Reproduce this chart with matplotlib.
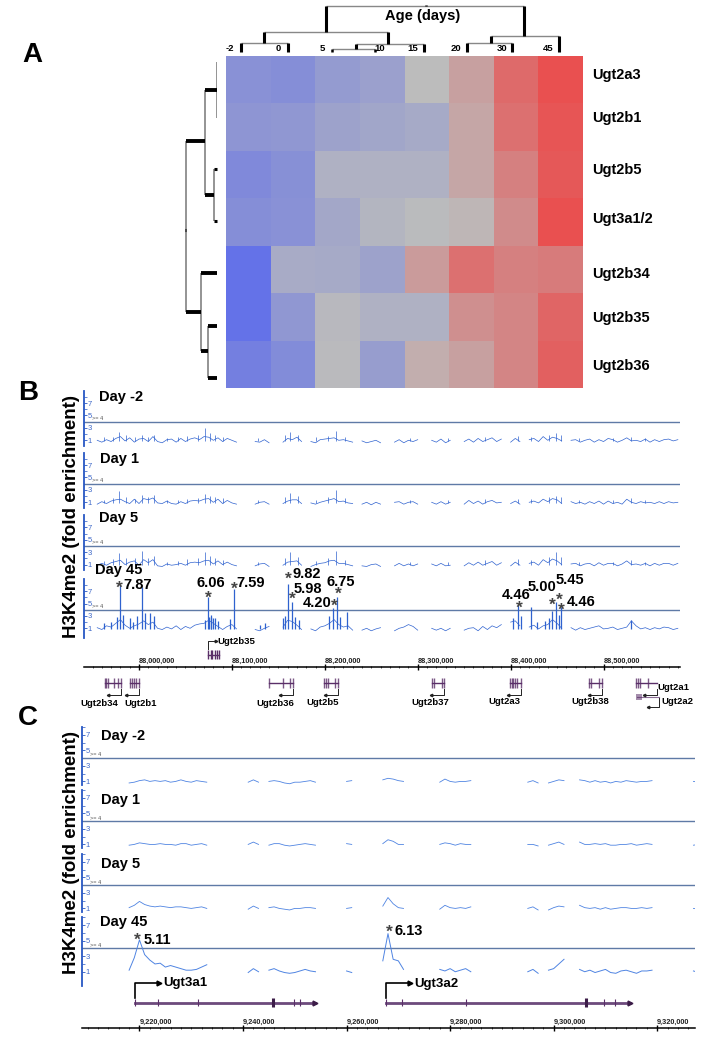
import matplotlib
matplotlib.use('Agg')
import matplotlib.pyplot as plt
from matplotlib.colors import LinearSegmentedColormap
import numpy as np

# heat map
age_lst = ['-2', '0', '5', '10', '15', '20', '30', '45']
gene_lst = ['Ugt2a3', 'Ugt2b1', 'Ugt2b5', 'Ugt3a1/2', 'Ugt2b34', 'Ugt2b35', 'Ugt2b36']
expr_2a3 = [-0.58, -0.62, -0.45, -0.38, 0.0, 0.25, 0.75, 1.0]
expr_2b1 = [-0.52, -0.5, -0.35, -0.3, -0.25, 0.2, 0.7, 0.95]
expr_2b5 = [-0.68, -0.6, -0.15, -0.15, -0.15, 0.2, 0.55, 0.92]
expr_3a1 = [-0.62, -0.58, -0.28, -0.1, -0.02, 0.05, 0.45, 1.05]
expr_2b34 = [-1.0, -0.22, -0.25, -0.35, 0.3, 0.7, 0.55, 0.6]
expr_2b35 = [-1.0, -0.5, -0.05, -0.15, -0.15, 0.42, 0.5, 0.8]
expr_2b36 = [-0.82, -0.65, -0.03, -0.42, 0.13, 0.25, 0.5, 0.85]

# dendrograms: link height, then the span in row/column units
row_link_h = [0, 11.5, 3.3, 31, 16, 8.5]
row_link_top = [0.13, 0.72, 2.38, 1.81, 4.58, 5.69]
row_link_bot = [1.31, 2.93, 3.48, 5.41, 6.23, 6.79]
row_bar_pos = [0.72, 1.81, 2.93, 5.41, 4.58, 6.23, 5.69, 6.79, 2.38, 3.48, 3.67]
row_bar_h0 = [0, 11.5, 3.3, 16, 0, 8.5, 0, 0, 0, 0, 31]
row_bar_h1 = [11.5, 31, 11.5, 31, 16, 16, 8.5, 8.5, 3.3, 3.3, 32.5]

col_link_h = [45.7, 19.7, 9.3, 7.7, 2.7, 16, 8.7]
col_link_l = [2.24, 0.85, 0.34, 2.91, 2.37, 5.94, 5.41]
col_link_r = [6.67, 3.62, 1.39, 4.43, 3.33, 7.47, 6.41]
col_bar_pos = [2.24, 6.67, 0.85, 3.62, 0.34, 1.39, 2.91, 4.43, 5.94, 7.47, 5.41, 6.41, 2.37, 3.33, 4.49]
col_bar_h0 = [19.7, 16, 9.3, 7.7, 0, 0, 2.7, 0, 8.7, 0, 0, 0, 0, 0, 45.7]
col_bar_h1 = [45.7, 45.7, 19.7, 19.7, 9.3, 9.3, 7.7, 7.7, 16, 16, 8.7, 8.7, 2.7, 2.7, 47.5]

# panel B tracks (kb on chr5), gaps in the coverage are where the spacing jumps
b_pos = [87955, 87960, 87965, 87970, 87975, 87980, 87985, 87990, 87995, 88000, 88005, 88010, 88015, 88020, 88025,
         88030, 88035, 88040, 88045, 88050, 88055, 88060, 88065, 88070, 88075, 88080, 88085, 88090, 88095, 88100,
         88105,
         88125, 88130, 88135, 88140,
         88155, 88160, 88165, 88170, 88175,
         88185, 88190, 88195, 88200, 88205, 88210, 88215, 88220, 88225, 88230,
         88240, 88245, 88250, 88255, 88260,
         88275, 88280, 88285, 88290, 88295, 88300,
         88315, 88320, 88325, 88330, 88335,
         88350, 88355, 88360, 88365, 88370, 88375, 88380, 88385, 88390,
         88400, 88405, 88410,
         88420, 88425, 88430, 88435, 88440, 88445, 88450, 88455,
         88465, 88470, 88475, 88480, 88485, 88490, 88495, 88500, 88505, 88510, 88515, 88520, 88525, 88530, 88535,
         88540, 88545, 88550, 88555, 88560, 88565, 88570, 88575, 88580]
b_day_m2 = [1.0, 0.7, 1.1, 0.8, 1.3, 1.6, 0.9, 1.4, 0.7, 1.2, 1.3, 0.8, 1.6, 0.8, 0.6,
            1.1, 1.2, 0.7, 1.3, 0.8, 1.2, 1.4, 1.1, 1.6, 1.5, 1.0, 1.4, 0.8, 1.3, 1.0,
            0.7,
            0.8, 0.7, 1.1, 0.6,
            0.7, 1.3, 1.1, 1.5, 0.8,
            0.8, 0.6, 1.1, 1.2, 1.3, 1.4, 1.0, 1.1, 0.9, 0.7,
            0.9, 0.6, 0.8, 1.0, 0.6,
            0.7, 1.1, 0.6, 1.0, 0.8, 1.1,
            1.0, 0.7, 1.2, 0.6, 1.0,
            0.8, 1.2, 0.7, 1.3, 0.8, 1.1, 1.4, 0.8, 1.2,
            0.7, 1.3, 0.8,
            1.1, 1.3, 0.8, 1.6, 1.0, 1.5, 1.3, 0.9,
            1.0, 1.1, 0.7, 1.0, 1.2, 0.7, 1.1, 0.8, 1.3, 1.1, 0.7,
            1.0, 1.4, 0.9, 1.0, 0.8, 1.2, 0.7, 1.1, 0.8, 1.1, 1.2, 0.9, 1.1]
b_day_1 = [0.7, 1.1, 0.8, 1.2, 1.4, 1.5, 1.1, 0.8, 1.5, 0.8, 1.6, 1.4, 1.7, 0.9, 0.8,
           1.2, 0.8, 0.7, 1.1, 0.8, 1.2, 1.3, 1.2, 1.5, 1.6, 1.0, 1.5, 0.8, 1.3, 0.9,
           0.7,
           0.7, 1.0, 1.1, 0.7,
           0.8, 1.2, 1.4, 1.4, 0.8,
           0.9, 0.7, 1.0, 1.2, 1.4, 1.6, 1.1, 1.2, 0.9, 0.8,
           0.7, 1.0, 0.6, 1.0, 0.7,
           1.0, 1.1, 0.7, 1.0, 1.1, 0.7,
           1.0, 0.7, 1.1, 0.7, 1.0,
           0.7, 1.3, 0.8, 1.2, 0.7, 1.1, 1.3, 0.9, 1.0,
           0.8, 1.2, 0.7,
           1.0, 1.2, 0.9, 1.5, 1.1, 1.6, 1.4, 0.8,
           1.1, 0.8, 1.0, 0.7, 1.1, 0.8, 1.2, 0.7, 1.2, 0.8, 1.0,
           0.7, 1.5, 1.0, 0.8, 1.1, 0.9, 1.0, 0.8, 1.1, 0.8, 1.1, 0.9, 1.0]
b_day_5 = [0.9, 1.2, 0.9, 1.3, 1.5, 1.7, 1.0, 1.4, 1.6, 0.9, 1.8, 1.3, 1.8, 0.8, 0.7,
           1.1, 0.9, 1.0, 1.2, 0.9, 1.3, 1.4, 1.3, 1.6, 1.7, 1.1, 1.6, 1.0, 1.4, 1.0,
           0.8,
           0.8, 1.1, 1.2, 0.7,
           0.9, 1.4, 1.5, 1.6, 0.9,
           0.7, 1.0, 1.2, 1.3, 1.6, 1.7, 1.2, 1.2, 1.0, 0.8,
           0.8, 0.7, 1.0, 1.1, 0.7,
           0.8, 1.2, 0.8, 1.1, 0.8, 1.1,
           1.1, 0.8, 1.2, 0.8, 0.9,
           0.8, 1.3, 0.9, 1.4, 0.9, 1.2, 1.5, 0.9, 1.3,
           0.8, 1.4, 0.9,
           1.2, 1.4, 0.9, 1.8, 1.3, 1.9, 1.6, 1.0,
           1.1, 1.2, 0.8, 1.1, 1.2, 0.8, 1.3, 0.9, 1.2, 1.2, 0.8,
           1.1, 1.6, 1.0, 1.1, 0.9, 1.2, 0.8, 1.2, 0.9, 1.2, 1.2, 0.9, 1.2]
b_day_45 = [1.1, 0.8, 1.4, 1.2, 1.8, 2.4, 1.5, 1.0, 1.4, 1.7, 2.2, 1.6, 2.0, 1.0, 0.8,
            1.2, 0.9, 1.4, 0.8, 1.3, 1.0, 1.5, 1.7, 1.8, 2.3, 1.8, 1.3, 0.8, 1.3, 1.6,
            0.9,
            0.8, 0.6, 1.0, 1.3,
            1.2, 2.3, 2.1, 1.5, 0.8,
            0.9, 0.6, 1.2, 1.4, 1.8, 2.4, 1.6, 1.2, 1.4, 0.7,
            0.7, 1.0, 0.6, 0.9, 1.1,
            0.6, 1.0, 1.2, 1.6, 1.3, 0.7,
            1.0, 0.7, 1.0, 0.6, 1.0,
            0.7, 1.0, 1.1, 0.6, 1.3, 0.8, 1.4, 1.1, 1.6,
            2.0, 2.2, 1.4,
            1.2, 1.5, 0.9, 1.4, 1.6, 2.4, 1.8, 1.0,
            1.1, 0.7, 1.1, 0.8, 1.0, 1.2, 1.4, 0.9, 1.0, 1.2, 0.8,
            1.0, 1.2, 2.2, 1.4, 0.9, 1.1, 0.8, 1.1, 0.9, 1.2, 1.1, 0.8, 1.0]

# narrow peaks sitting on the coverage
b_base_pos = [87962, 87972, 87978, 87986, 87996, 88003, 88010, 88016, 88030, 88042, 88052, 88064, 88071, 88076,
              88082, 88090, 88128, 88157, 88162, 88171, 88190, 88203, 88212, 88222, 88292, 88333, 88372, 88408,
              88422, 88441, 88449, 88454, 88474, 88510, 88530, 88545]
b_base_m2 = [1.5, 1.6, 2.3, 1.8, 1.5, 1.9, 1.6, 1.8, 1.4, 1.5, 1.7, 1.8, 3.0, 2.1,
             1.9, 1.6, 1.3, 1.8, 2.4, 1.9, 1.5, 1.7, 2.5, 1.6, 1.3, 1.4, 1.5, 1.7,
             1.5, 1.9, 2.2, 1.8, 1.4, 1.4, 1.6, 1.4]
b_base_1 = [1.4, 1.7, 2.8, 1.9, 1.6, 2.2, 1.9, 2.1, 1.4, 1.4, 1.6, 1.7, 2.4, 2.0,
            1.8, 1.7, 1.3, 1.9, 2.5, 2.0, 1.4, 1.8, 3.0, 1.7, 1.3, 1.3, 1.5, 1.6,
            1.5, 1.8, 2.0, 1.9, 1.3, 1.4, 1.7, 1.3]
b_base_5 = [1.6, 1.9, 2.9, 2.0, 2.0, 3.2, 2.0, 2.4, 1.5, 1.6, 1.9, 2.0, 3.0, 2.4,
            2.0, 1.7, 1.4, 2.1, 3.0, 2.2, 1.6, 2.0, 3.2, 1.8, 1.4, 1.5, 1.7, 1.9,
            1.7, 2.2, 3.0, 2.3, 1.5, 1.5, 1.8, 1.5]
b_spike_pos = [87962, 87970, 87976, 87980, 87983, 87990, 87994, 87998, 88003, 88006, 88012, 88016, 88071, 88074,
               88075, 88077, 88078, 88080, 88082, 88085, 88098, 88102, 88130, 88136,
               88155, 88157, 88160, 88165, 88168, 88172, 88205, 88209, 88213, 88216, 88224, 88403, 88408, 88411,
               88422, 88428, 88437, 88441, 88445, 88449, 88452, 88454, 88530]
b_spike_top = [1.8, 2.0, 2.9, 8.0, 3.2, 2.6, 2.0, 3.0, 7.6, 3.5, 3.5, 3.0, 2.3, 6.0,
               2.9, 3.2, 2.9, 2.6, 2.7, 2.2, 2.5, 7.3, 1.6, 1.8,
               2.6, 3.0, 8.1, 5.3, 2.9, 2.4, 3.0, 4.2, 6.1, 2.8, 3.6, 2.6, 4.8, 3.0,
               4.4, 2.0, 2.2, 2.6, 3.8, 5.3, 3.2, 4.5, 2.3]
b_major_ticks = [88000, 88100, 88200, 88300, 88400, 88500]
b_major_labels = ['88,000,000', '88,100,000', '88,200,000', '88,300,000', '88,400,000', '88,500,000']

# panel B gene models
b_gene_names = ['Ugt2b34', 'Ugt2b1', 'Ugt2b36', 'Ugt2b5', 'Ugt2b37', 'Ugt2a3', 'Ugt2b38', 'Ugt2a1']
b_gene_exons = [[87963, 87965, 87967, 87973, 87977, 87981],
                [87990, 87993, 87995, 87997, 88000],
                [88140, 88155, 88163, 88166],
                [88199, 88201, 88203, 88211, 88214],
                [88315, 88317, 88326, 88328],
                [88399, 88401, 88403, 88405, 88407, 88411],
                [88484, 88486, 88495, 88498],
                [88535, 88537, 88539, 88548]]
b_gene_end = [87981, 88000, 88166, 88214, 88328, 88411, 88498, 88558]
b_2b35_exons = [88074, 88077, 88079, 88082, 88084, 88086]
b_2a2_span = [88536, 88560]
b_2a2_exons = [88536, 88538, 88540]

# panel C tracks (kb on chr13)
c_pos = [9218, 9219, 9220, 9221, 9222, 9223, 9224, 9225, 9226, 9227, 9228, 9229, 9230, 9231, 9232, 9233,
         9241, 9242, 9243,
         9245, 9246, 9247, 9248, 9249, 9250, 9251, 9252, 9253, 9254,
         9260, 9261,
         9267, 9268, 9269, 9270, 9271,
         9278, 9279, 9280, 9281, 9282, 9283, 9284,
         9295, 9296, 9297,
         9299, 9300, 9301, 9302,
         9305, 9306, 9307, 9308, 9309, 9310, 9311, 9312, 9313, 9314, 9315, 9316, 9317, 9318, 9319,
         9327, 9328]
c_day_m2 = [0.8, 0.9, 1.1, 1.2, 1.0, 1.1, 1.0, 1.1, 0.9, 1.0, 1.2, 1.0, 0.9, 1.1, 1.0, 0.9,
            0.9, 1.2, 0.9,
            1.0, 1.1, 1.0, 0.8, 0.7, 0.9, 0.9, 1.0, 1.1, 0.9,
            1.0, 1.1,
            1.2, 1.4, 1.3, 1.1, 1.0,
            0.9, 1.3, 1.0, 0.9, 1.0, 1.0, 1.1,
            0.9, 1.1, 0.8,
            0.8, 1.0, 1.2, 1.1,
            1.2, 1.1, 0.9, 1.1, 0.9, 1.0, 0.8, 1.0, 0.9, 1.1, 1.0, 0.9, 1.0, 1.0, 1.1,
            1.0, 0.9]
c_day_1 = [0.9, 1.0, 1.2, 1.1, 1.0, 1.0, 1.1, 1.0, 1.0, 0.9, 1.1, 1.1, 0.9, 1.0, 1.1, 0.9,
           1.0, 1.3, 1.0,
           0.9, 1.1, 1.1, 0.9, 0.8, 0.9, 1.0, 1.1, 1.0, 0.9,
           1.1, 1.0,
           1.1, 1.6, 1.4, 1.0, 1.0,
           1.0, 1.2, 1.1, 0.9, 1.1, 1.0, 1.0,
           1.0, 1.0, 0.8,
           0.9, 1.1, 1.3, 1.0,
           1.3, 1.0, 1.0, 1.1, 1.0, 1.1, 0.9, 0.9, 1.0, 1.0, 1.1, 0.9, 1.0, 1.1, 1.0,
           0.9, 1.0]
c_day_5 = [1.1, 1.4, 1.9, 1.5, 1.3, 1.2, 1.3, 1.2, 1.1, 1.2, 1.2, 1.1, 1.0, 1.1, 1.2, 1.0,
           0.9, 1.3, 1.0,
           1.1, 1.2, 1.0, 0.9, 0.8, 1.0, 1.0, 1.1, 1.1, 1.0,
           1.0, 1.1,
           1.3, 2.4, 1.6, 1.1, 1.0,
           0.9, 1.4, 1.1, 1.0, 1.1, 1.0, 1.2,
           1.0, 1.2, 0.8,
           0.8, 1.1, 1.3, 1.2,
           1.4, 1.1, 1.0, 1.1, 0.9, 1.1, 0.9, 1.0, 1.1, 1.1, 1.0, 1.0, 1.1, 1.0, 1.1,
           1.0, 0.9]
c_day_45 = [1.2, 2.8, 5.1, 3.2, 2.5, 2.0, 2.1, 1.6, 1.8, 1.6, 1.4, 1.2, 1.2, 1.3, 1.6, 1.9,
            0.9, 1.4, 1.0,
            1.2, 1.4, 1.1, 0.9, 0.8, 0.9, 1.1, 1.3, 1.1, 1.0,
            1.1, 0.9,
            2.4, 5.9, 2.6, 2.4, 1.3,
            1.3, 1.1, 1.4, 1.0, 1.2, 1.4, 1.0,
            1.0, 1.3, 0.8,
            1.2, 1.4, 2.0, 2.6,
            1.3, 1.0, 1.2, 0.9, 1.1, 1.3, 0.9, 0.8, 1.1, 1.2, 1.0, 0.8, 1.1, 1.1, 1.2,
            1.1, 0.9]
c_major_ticks = [9220, 9240, 9260, 9280, 9300, 9320]
c_major_labels = ['9,220,000', '9,240,000', '9,260,000', '9,280,000', '9,300,000', '9,320,000']

# panel C gene models
c_3a1_exons = [9219.2, 9223.5, 9231.3, 9245.7, 9249.9, 9251.1, 9254.0]
c_3a2_exons = [9267.7, 9270.7, 9283.1, 9306.3, 9309.8, 9311.9, 9314.8]
c_wide_exons = [9245.7, 9306.3]

W, H = 709, 1050
BLUE = '#2757c4'
TRACK_BLUE = '#2f62cf'
LIGHT_BLUE = '#4f84e2'
RULE = '#5f7aa6'
GENE = '#5a2f68'
FONT = 'Liberation Sans'


def px_axes(fig, left, top, right, bottom):
    return fig.add_axes([left / W, 1 - bottom / H, (right - left) / W, (bottom - top) / H])


def split_gaps(x_lst, y_lst, max_gap):
    x_arr, y_arr = np.array(x_lst, dtype=float), np.array(y_lst, dtype=float)
    idx = np.where(np.diff(x_arr) > max_gap)[0] + 1
    return np.insert(x_arr, idx, np.nan), np.insert(y_arr, idx, np.nan)


def draw_track(fig, line_y, left, right, xlim, y_scale, drop, x_lst, y_lst, max_gap, color, lw):
    top, bottom = line_y - 31, line_y + drop
    ax = px_axes(fig, left, top, right, bottom)
    ax.set_xlim(*xlim)
    ax.set_ylim(4 - drop / y_scale, 4 + 31 / y_scale)
    ax.patch.set_alpha(0)
    for name in ['top', 'right', 'bottom']:
        ax.spines[name].set_visible(False)
    ax.spines['left'].set_color(BLUE)
    ax.spines['left'].set_linewidth(1.3)
    ax.set_xticks([])
    ax.set_yticks([1, 3, 5, 7])
    ax.set_yticklabels(['1', '3', '5', '7'])
    ax.set_yticks([2, 6, 8], minor=True)
    ax.tick_params(axis='y', which='major', direction='in', length=2.5, width=0.6, color=BLUE,
                   labelsize=5.5, labelcolor='#3f69c8', pad=-2.5)
    ax.tick_params(axis='y', which='minor', direction='in', length=2, width=0.5, color=BLUE)
    for lab in ax.get_yticklabels():
        lab.set_ha('left')
    ax.axhline(4, color=RULE, lw=1.0)
    x_arr, y_arr = split_gaps(x_lst, y_lst, max_gap)
    ax.plot(x_arr, y_arr, color=color, lw=lw)
    return ax


def draw_axis(fig, left, right, y_px, xlim, major, labels, minor):
    ax = px_axes(fig, left, y_px - 0.5, right, y_px + 0.5)
    ax.set_xlim(*xlim)
    ax.set_yticks([])
    for name in ['left', 'right', 'bottom']:
        ax.spines[name].set_visible(False)
    ax.spines['top'].set_linewidth(1.1)
    ax.xaxis.tick_top()
    ax.set_xticks(major)
    ax.set_xticklabels(labels, fontsize=5.3, fontweight='bold', color='#222222', ha='left')
    ax.set_xticks(minor, minor=True)
    ax.tick_params(axis='x', which='major', direction='inout', length=5, width=1.0, pad=-1)
    ax.tick_params(axis='x', which='minor', direction='inout', length=2, width=0.5)


if __name__ == '__main__':
    plt.rcParams['font.family'] = FONT
    fig = plt.figure(figsize=(W / 100, H / 100), dpi=100)

    # --- A: heat map and the two dendrograms
    cmap = LinearSegmentedColormap.from_list('expr', ['#6472e8', '#bcbcbc', '#e95050'])
    expr = np.array([expr_2a3, expr_2b1, expr_2b5, expr_3a1, expr_2b34, expr_2b35, expr_2b36])
    ax = px_axes(fig, 226, 55.5, 583, 388)
    ax.pcolormesh(expr, cmap=cmap, vmin=-1, vmax=1)
    ax.invert_yaxis()
    ax.axis('off')

    ax = px_axes(fig, 180, 55.5, 217, 388)
    ax.set_xlim(37, 0)
    ax.set_ylim(7, 0)
    ax.axis('off')
    ax.vlines(row_link_h, row_link_top, row_link_bot, color='#777777', lw=1.1)
    for idx, pos in enumerate(row_bar_pos):
        ax.plot([row_bar_h0[idx], row_bar_h1[idx]], [pos, pos], color='black', solid_capstyle='butt',
                lw=2.8 if idx < 8 else 2.2, clip_on=False)

    ax = px_axes(fig, 226, 0, 583, 52)
    ax.set_xlim(0, 8)
    ax.set_ylim(0, 52)
    ax.axis('off')
    ax.hlines(col_link_h, col_link_l, col_link_r, color='#888888', lw=1.0)
    for idx, pos in enumerate(col_bar_pos):
        ax.plot([pos, pos], [col_bar_h0[idx], col_bar_h1[idx]], color='black', solid_capstyle='butt',
                lw=2.2 if idx < 12 else 1.8, clip_on=False)

    # --- B: coverage tracks
    b_xlim = (87940.8, 88582.3)
    b_minor = [k for k in range(87950, 88590, 10)]
    for line_y, y_lst, top_lst in zip([421.7, 483.7, 546], [b_day_m2, b_day_1, b_day_5],
                                      [b_base_m2, b_base_1, b_base_5]):
        ax = draw_track(fig, line_y, 84, 680, b_xlim, 6.2, 24, b_pos, y_lst, 8, TRACK_BLUE, 0.5)
        ax.vlines(b_base_pos, 0.9, top_lst, color=TRACK_BLUE, lw=0.5)
    ax = draw_track(fig, 609.7, 84, 680, b_xlim, 6.2, 28, b_pos, b_day_45, 8, TRACK_BLUE, 0.5)
    ax.vlines(b_spike_pos, 0.9, b_spike_top, color=TRACK_BLUE, lw=0.9)

    draw_axis(fig, 84, 680, 667, b_xlim, b_major_ticks, b_major_labels, b_minor)

    # gene models under B, y in pixels
    ax = px_axes(fig, 84, 630, 680, 720)
    ax.set_xlim(*b_xlim)
    ax.set_ylim(720, 630)
    ax.axis('off')
    for idx, exons in enumerate(b_gene_exons):
        ax.plot([exons[0], b_gene_end[idx]], [683, 683], color=GENE, lw=1.0)
        ax.vlines(exons, 678, 688, color=GENE, lw=1.0, alpha=0.8)
    ax.plot([b_2b35_exons[0], b_2b35_exons[-1]], [655, 655], color=GENE, lw=1.0)
    ax.vlines(b_2b35_exons, 650, 659, color=GENE, lw=1.0)
    ax.plot(b_2a2_span, [697, 697], color=GENE, lw=0.8, alpha=0.7)
    ax.vlines(b_2a2_exons, 694, 700, color=GENE, lw=1.3, alpha=0.6)
    # strand brackets
    for idx, name in enumerate(b_gene_names):
        end = b_gene_end[idx]
        ax.plot([end, end, end - 14], [689, 695, 695], color='#222222', lw=0.7)
        ax.plot(end - 14, 695, '<', color='#222222', ms=1.8)
    end = b_2a2_span[1]
    ax.plot([end, end, end - 12], [698, 707, 707], color='#222222', lw=0.7)
    ax.plot(end - 12, 707, '<', color='#222222', ms=1.8)
    start = b_2b35_exons[0]
    ax.plot([start, start, start + 9], [649, 641, 641], color='#222222', lw=0.7)
    ax.plot(start + 9, 641, '>', color='#222222', ms=1.8)

    # --- C: coverage tracks
    c_xlim = (9208.9, 9327.3)
    c_minor = [k for k in range(9210, 9328, 2)]
    for line_y, y_lst in zip([758, 821, 885], [c_day_m2, c_day_1, c_day_5]):
        draw_track(fig, line_y, 82, 695, c_xlim, 7.8, 27, c_pos, y_lst, 1.5, LIGHT_BLUE, 0.6)
    draw_track(fig, 948.3, 82, 695, c_xlim, 7.8, 38, c_pos, c_day_45, 1.5, LIGHT_BLUE, 0.7)

    draw_axis(fig, 82, 695, 1028, c_xlim, c_major_ticks, c_major_labels, c_minor)

    ax = px_axes(fig, 82, 975, 695, 1015)
    ax.set_xlim(*c_xlim)
    ax.set_ylim(1015, 975)
    ax.axis('off')
    for exons in [c_3a1_exons, c_3a2_exons]:
        ax.plot([exons[0], exons[-1]], [1002.7, 1002.7], color='#6d4a7c', lw=2.0)
        ax.vlines(exons[:-1], 999, 1006, color=GENE, lw=0.8)
        ax.plot(exons[-1], 1002.7, '>', color='#3c1c48', ms=3.5)
        ax.plot([exons[0], exons[0], exons[0] + 4.2], [998, 983, 983], color='black', lw=1.2)
        ax.plot(exons[0] + 4.6, 983, '>', color='black', ms=3.5)
    ax.vlines(c_wide_exons, 998, 1007, color='#3c1c48', lw=2.2)

    # --- all text, placed in figure pixels
    ov = fig.add_axes([0, 0, 1, 1], zorder=10)
    ov.set_xlim(0, W)
    ov.set_ylim(H, 0)
    ov.axis('off')
    ov.patch.set_alpha(0)

    def label(x, y, s, size, ha='center', color='black', **kw):
        ov.text(x, y, s, fontsize=size, fontweight='bold', ha=ha, va='center', color=color, **kw)

    label(423, 16, 'Age (days)', 10.5)
    for x, s in zip([230, 278, 322.7, 380, 412.7, 456, 502, 547.7], age_lst):
        label(x, 48.5, s, 6.8)
    for y, s in zip([75, 118, 170, 219, 274, 318, 366], gene_lst):
        label(592, y, s, 10.5, ha='left')

    label(32, 55, 'A', 20)
    label(28, 393, 'B', 20)
    label(28, 718, 'C', 20)
    label(71, 517, 'H3K4me2 (fold enrichment)', 13.5, rotation=90)
    label(71, 853, 'H3K4me2 (fold enrichment)', 13.5, rotation=90)

    for x, y, s in [(99, 396.5, 'Day -2'), (100, 459, 'Day 1'), (99, 518, 'Day 5'), (95, 570, 'Day 45'),
                    (101, 736, 'Day -2'), (101, 800, 'Day 1'), (101, 864, 'Day 5'), (100, 922, 'Day 45')]:
        label(x, y, s, 10.5, ha='left')

    for y in [418.5, 480.5, 543, 606.5]:
        ov.text(92, y, '>= 4', fontsize=4, color='#555555', ha='left', va='center')
    for y in [755, 818, 882, 945.5]:
        ov.text(90, y, '>= 4', fontsize=4, color='#555555', ha='left', va='center')

    # enrichment values and their asterisks
    for x, y, s in [(138, 585, '7.87'), (211, 583, '6.06'), (251, 583, '7.59'), (307, 574, '9.82'),
                    (308, 589, '5.98'), (317, 603, '4.20'), (341, 582, '6.75'), (516, 595, '4.46'),
                    (541.7, 587, '5.00'), (570, 580, '5.45'), (581, 602, '4.46'), (157, 940, '5.11'),
                    (409, 931, '6.13')]:
        label(x, y, s, 10.5)
    for x, y in [(119, 588), (208, 598), (234, 589), (288, 579), (292, 599), (334, 606), (338, 594),
                 (519, 608), (552, 605), (559.7, 600), (561, 610), (137, 940), (389, 932)]:
        label(x, y, '*', 12.5, color='#444444')

    for x, y, s, ha in [(217, 641, 'Ugt2b35', 'left'), (99, 703.5, 'Ugt2b34', 'center'),
                        (140.7, 703.5, 'Ugt2b1', 'center'), (275, 703.5, 'Ugt2b36', 'center'),
                        (322.7, 702.5, 'Ugt2b5', 'center'), (430.7, 702.5, 'Ugt2b37', 'center'),
                        (504, 701.5, 'Ugt2a3', 'center'), (590.7, 701.5, 'Ugt2b38', 'center'),
                        (657, 687, 'Ugt2a1', 'left'), (661.7, 701, 'Ugt2a2', 'left')]:
        label(x, y, s, 6.8, ha=ha)
    label(163, 983, 'Ugt3a1', 9.5, ha='left')
    label(414, 984, 'Ugt3a2', 9.5, ha='left')

    plt.savefig('out.png', dpi=100)
    plt.close()
